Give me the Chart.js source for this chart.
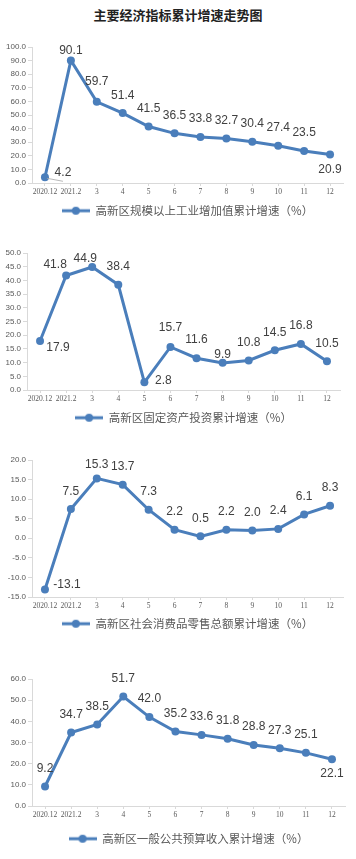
<!DOCTYPE html>
<html>
<head>
<meta charset="utf-8">
<script src="https://cdn.jsdelivr.net/npm/chart.js@4/dist/chart.umd.min.js"></script>
<style>
  html, body { margin: 0; padding: 0; background: #ffffff; }
  body { width: 356px; height: 859px; position: relative; overflow: hidden; }
  #title { position: absolute; left: 0; top: 6px; width: 356px; text-align: center;
           font: bold 13px "Noto Sans CJK SC", sans-serif; color: #222; line-height: 18px; }
  .box { position: absolute; left: 0; width: 356px; }
</style>
</head>
<body>
<div id="title">主要经济指标累计增速走势图</div>
<div class="box" id="b1"><canvas id="c1"></canvas></div>
<div class="box" id="b2"><canvas id="c2"></canvas></div>
<div class="box" id="b3"><canvas id="c3"></canvas></div>
<div class="box" id="b4"><canvas id="c4"></canvas></div>
<script>
// ---- data ----
const months = ['2020.12', '2021.2', '3', '4', '5', '6', '7', '8', '9', '10', '11', '12'];
const industryGrowth = [4.2, 90.1, 59.7, 51.4, 41.5, 36.5, 33.8, 32.7, 30.4, 27.4, 23.5, 20.9];
const investmentGrowth = [17.9, 41.8, 44.9, 38.4, 2.8, 15.7, 11.6, 9.9, 10.8, 14.5, 16.8, 10.5];
const retailGrowth = [-13.1, 7.5, 15.3, 13.7, 7.3, 2.2, 0.5, 2.2, 2.0, 2.4, 6.1, 8.3];
const budgetGrowth = [9.2, 34.7, 38.5, 51.7, 42.0, 35.2, 33.6, 31.8, 28.8, 27.3, 25.1, 22.1];
const seriesNames = [
  '高新区规模以上工业增加值累计增速（%）',
  '高新区固定资产投资累计增速（%）',
  '高新区社会消费品零售总额累计增速（%）',
  '高新区一般公共预算收入累计增速（%）'
];
const axisRanges = [[0, 100, 10], [0, 50, 5], [-15, 20, 5], [0, 60, 10]];

// ---- style / layout ----
const LINE = '#4a7ebb';
const GRAY = '#d9d9d9';
const TXT = '#595959';

const markerImg = (() => {
  const c = document.createElement('canvas');
  c.width = 28; c.height = 10;
  const g = c.getContext('2d');
  g.strokeStyle = LINE; g.lineWidth = 3;
  g.beginPath(); g.moveTo(0, 5); g.lineTo(28, 5); g.stroke();
  g.fillStyle = LINE;
  g.beginPath(); g.arc(14, 5, 4, 0, Math.PI * 2); g.fill();
  return c;
})();

const labelPlugin = {
  id: 'pointLabels',
  afterDatasetsDraw(chart) {
    const cfg = chart.options.plugins.pointLabels;
    if (!cfg) return;
    const ctx = chart.ctx;
    const meta = chart.getDatasetMeta(0);
    const data = chart.data.datasets[0].data;
    ctx.save();
    ctx.font = '12px "Liberation Sans", Arial, sans-serif';
    ctx.fillStyle = '#404040';
    ctx.textAlign = 'center';
    ctx.textBaseline = 'middle';
    meta.data.forEach((pt, i) => {
      const off = (cfg.offsets && cfg.offsets[i]) || [0, -18];
      const tx = pt.x + off[0], ty = pt.y + off[1];
      if (off[2]) {
        ctx.strokeStyle = '#a6a6a6'; ctx.lineWidth = 0.8;
        ctx.beginPath(); ctx.moveTo(pt.x + 2, pt.y + 1); ctx.lineTo(pt.x + 18, pt.y + 4); ctx.stroke();
      }
      ctx.fillText(data[i].toFixed(1), tx, ty);
    });
    ctx.restore();
  }
};

const layouts = [
  { box: 'b1', canvas: 'c1', top: 30, height: 201, left: 32, right: 13, xH: 17,
    offsets: { 0: [18, -5, true], 1: [0, -10], 2: [0, -20], 3: [0, -17], 11: [0, 15] } },
  { box: 'b2', canvas: 'c2', top: 236, height: 202, left: 27, right: 16, xH: 17,
    offsets: { 0: [18, 7], 1: [-11, -11], 2: [-7, -8], 4: [19, -2], 5: [0, -19], 6: [0, -19], 7: [0, -8] } },
  { box: 'b3', canvas: 'c3', top: 443, height: 201, left: 32, right: 13, xH: 16,
    offsets: { 0: [22, -5], 1: [0, -17], 2: [0, -14] } },
  { box: 'b4', canvas: 'c4', top: 662, height: 197, left: 32, right: 11, xH: 22,
    offsets: { 11: [0, 14] } }
];
const allSeries = [industryGrowth, investmentGrowth, retailGrowth, budgetGrowth];

layouts.forEach((L, k) => {
  const box = document.getElementById(L.box);
  box.style.top = L.top + 'px';
  box.style.height = L.height + 'px';
  const [mn, mx, st] = axisRanges[k];
  new Chart(document.getElementById(L.canvas), {
    type: 'line',
    data: {
      labels: months,
      datasets: [{
        label: seriesNames[k],
        data: allSeries[k],
        borderColor: LINE,
        backgroundColor: LINE,
        borderWidth: 3,
        pointRadius: 4,
        pointBackgroundColor: LINE,
        pointBorderColor: LINE,
        pointBorderWidth: 0,
        tension: 0,
        fill: false
      }]
    },
    options: {
      responsive: true,
      maintainAspectRatio: false,
      animation: false,
      devicePixelRatio: 1,
      layout: { padding: { top: 17, left: 0, right: L.right, bottom: 4.5 } },
      scales: {
        x: {
          offset: true,
          grid: { display: true, drawOnChartArea: false, drawTicks: true, tickLength: 3, color: GRAY, offset: false },
          border: { display: true, color: GRAY, width: 1 },
          ticks: { autoSkip: false, maxRotation: 0, minRotation: 0, padding: 2,
                   color: TXT, font: { family: '"Liberation Serif", "DejaVu Serif", serif', size: 7.5 } },
          afterFit: (s) => { s.height = L.xH; }
        },
        y: {
          min: mn, max: mx,
          grid: { display: true, drawOnChartArea: false, drawTicks: true, tickLength: 4, color: GRAY },
          border: { display: true, color: GRAY, width: 1 },
          ticks: { stepSize: st, padding: 2, color: TXT,
                   font: { family: '"Liberation Sans", Arial, sans-serif', size: 8 },
                   callback: (v) => Number(v).toFixed(1) },
          afterFit: (s) => { s.width = L.left; }
        }
      },
      plugins: {
        legend: {
          display: true,
          position: 'bottom',
          fullSize: false,
          labels: {
            usePointStyle: true,
            pointStyle: markerImg,
            pointStyleWidth: 28,
            padding: 5,
            color: TXT,
            font: { family: '"Noto Sans CJK SC", sans-serif', size: 11.5 },
            generateLabels: (chart) => [{
              text: chart.data.datasets[0].label,
              fillStyle: LINE, strokeStyle: LINE, lineWidth: 0,
              pointStyle: markerImg, hidden: false, datasetIndex: 0, fontColor: TXT
            }]
          }
        },
        tooltip: { enabled: false },
        pointLabels: { offsets: L.offsets }
      }
    },
    plugins: [labelPlugin]
  });
});
</script>
</body>
</html>
